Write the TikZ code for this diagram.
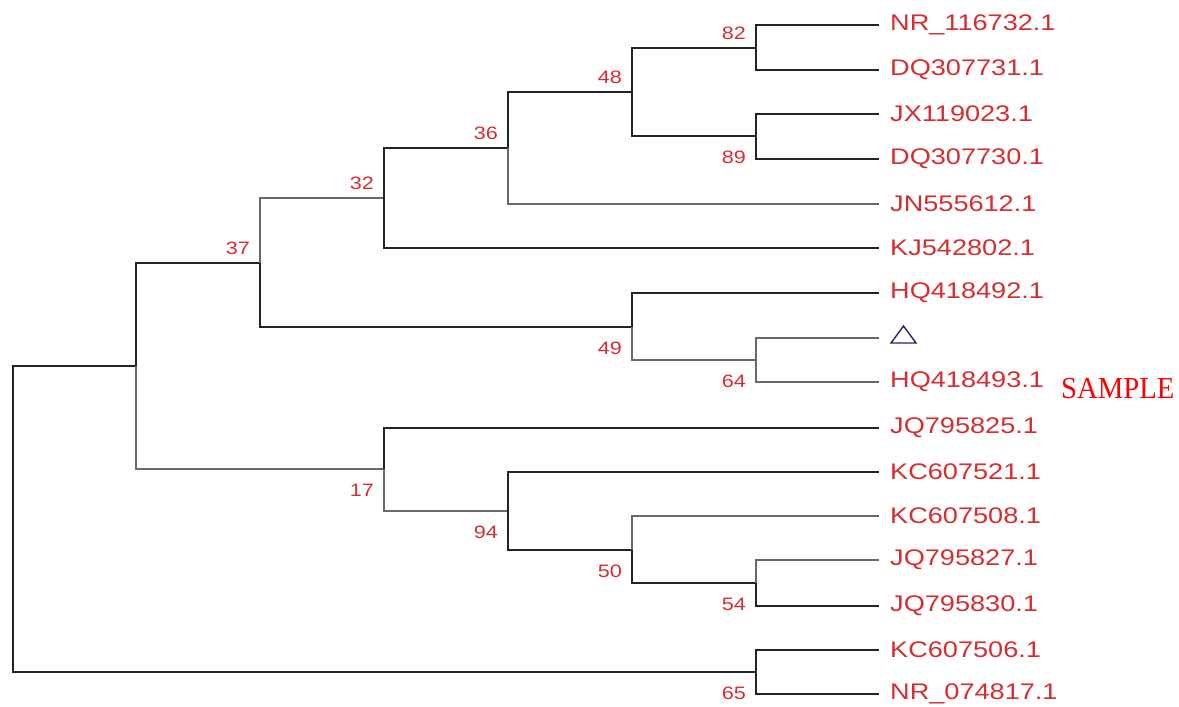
\documentclass[tikz,border=0pt]{standalone}
\usepackage{fontspec}
\newfontfamily\leaffont[FakeStretch=1.2]{Liberation Sans}
\newfontfamily\samplefont[FakeStretch=0.94]{Liberation Serif}
\definecolor{labred}{RGB}{215,45,50}
\definecolor{samred}{RGB}{255,0,0}
\definecolor{navy}{RGB}{35,35,110}
\definecolor{dk}{RGB}{35,35,35}
\definecolor{lt}{RGB}{105,105,105}
\tikzset{
  br/.style={draw=dk,line width=1.7pt},
  brl/.style={draw=lt,line width=1.7pt},
  leaf/.style={anchor=west,inner xsep=11pt,inner ysep=0pt,text=labred,font=\leaffont\fontsize{22.6}{24}\selectfont},
  bs/.style={anchor=base east,inner sep=0pt,text=labred,font=\leaffont\fontsize{18}{20}\selectfont},
  tri/.style={draw=navy,line width=1.4pt,line join=miter}
}
\begin{document}
\begin{tikzpicture}[x=1pt,y=-1pt]
\useasboundingbox (0,0) rectangle (1179,707);
% internal nodes
\coordinate (root) at (13,518.5);
\coordinate (n37) at (136,366);
\coordinate (n37b) at (260,263);
\coordinate (n32) at (384,198);
\coordinate (n36) at (508,148);
\coordinate (n48) at (632,92);
\coordinate (n82) at (756,48);
\coordinate (n89) at (756,136);
\coordinate (n49) at (632,327);
\coordinate (n64) at (756,360);
\coordinate (n17) at (384,469);
\coordinate (n94) at (508,511);
\coordinate (n50) at (632,550);
\coordinate (n54) at (756,583);
\coordinate (n65) at (756,672);
% leaves
\node[leaf] (l1) at (879,25) {NR\_116732.1};
\node[leaf] (l2) at (879,70) {DQ307731.1};
\node[leaf] (l3) at (879,114) {JX119023.1};
\node[leaf] (l4) at (879,159) {DQ307730.1};
\node[leaf] (l5) at (879,204) {JN555612.1};
\node[leaf] (l6) at (879,248) {KJ542802.1};
\node[leaf] (l7) at (879,293) {HQ418492.1};
\coordinate (l8) at (879,338);
\node[leaf] (l9) at (879,382) {HQ418493.1};
\node[leaf] (l10) at (879,428) {JQ795825.1};
\node[leaf] (l11) at (879,472) {KC607521.1};
\node[leaf] (l12) at (879,516) {KC607508.1};
\node[leaf] (l13) at (879,560) {JQ795827.1};
\node[leaf] (l14) at (879,606) {JQ795830.1};
\node[leaf] (l15) at (879,650) {KC607506.1};
\node[leaf] (l16) at (879,694) {NR\_074817.1};
% triangle marker
\draw[tri] (891,343) -- (903.5,326) -- (916,343) -- cycle;
% sample
\node[anchor=west,inner sep=0pt,text=samred,font=\samplefont\fontsize{30.5}{33}\selectfont] (sample) at (1061,389) {SAMPLE};
% branches
\draw[br] (root) |- (n37);
\draw[br] (root) |- (n65);
\draw[br] (n37) |- (n37b);
\draw[brl] (n37) |- (n17);
\draw[brl] (n37b) |- (n32);
\draw[br] (n37b) |- (n49);
\draw[br] (n32) |- (n36);
\draw[br] (n32) |- (l6.west);
\draw[br] (n36) |- (n48);
\draw[brl] (n36) |- (l5.west);
\draw[br] (n48) |- (n82);
\draw[br] (n48) |- (n89);
\draw[br] (n82) |- (l1.west);
\draw[br] (n82) |- (l2.west);
\draw[br] (n89) |- (l3.west);
\draw[br] (n89) |- (l4.west);
\draw[br] (n49) |- (l7.west);
\draw[brl] (n49) |- (n64);
\draw[brl] (n64) |- (l8);
\draw[brl] (n64) |- (l9.west);
\draw[br] (n17) |- (l10.west);
\draw[brl] (n17) |- (n94);
\draw[br] (n94) |- (l11.west);
\draw[br] (n94) |- (n50);
\draw[brl] (n50) |- (l12.west);
\draw[br] (n50) |- (n54);
\draw[brl] (n54) |- (l13.west);
\draw[br] (n54) |- (l14.west);
\draw[br] (n65) |- (l15.west);
\draw[br] (n65) |- (l16.west);
% bootstrap values
\node[bs] (b82) at ([shift={(-10,-9)}]n82) {82};
\node[bs] (b48) at ([shift={(-10,-9)}]n48) {48};
\node[bs] (b36) at ([shift={(-10,-9)}]n36) {36};
\node[bs] (b32) at ([shift={(-10,-9)}]n32) {32};
\node[bs] (b37) at ([shift={(-10,-9)}]n37b) {37};
\node[bs] (b89) at ([shift={(-10,27.5)}]n89) {89};
\node[bs] (b49) at ([shift={(-10,27.5)}]n49) {49};
\node[bs] (b64) at ([shift={(-10,27.5)}]n64) {64};
\node[bs] (b17) at ([shift={(-10,27.5)}]n17) {17};
\node[bs] (b94) at ([shift={(-10,27.5)}]n94) {94};
\node[bs] (b50) at ([shift={(-10,27.5)}]n50) {50};
\node[bs] (b54) at ([shift={(-10,27.5)}]n54) {54};
\node[bs] (b65) at ([shift={(-10,27.5)}]n65) {65};
\end{tikzpicture}
\end{document}
